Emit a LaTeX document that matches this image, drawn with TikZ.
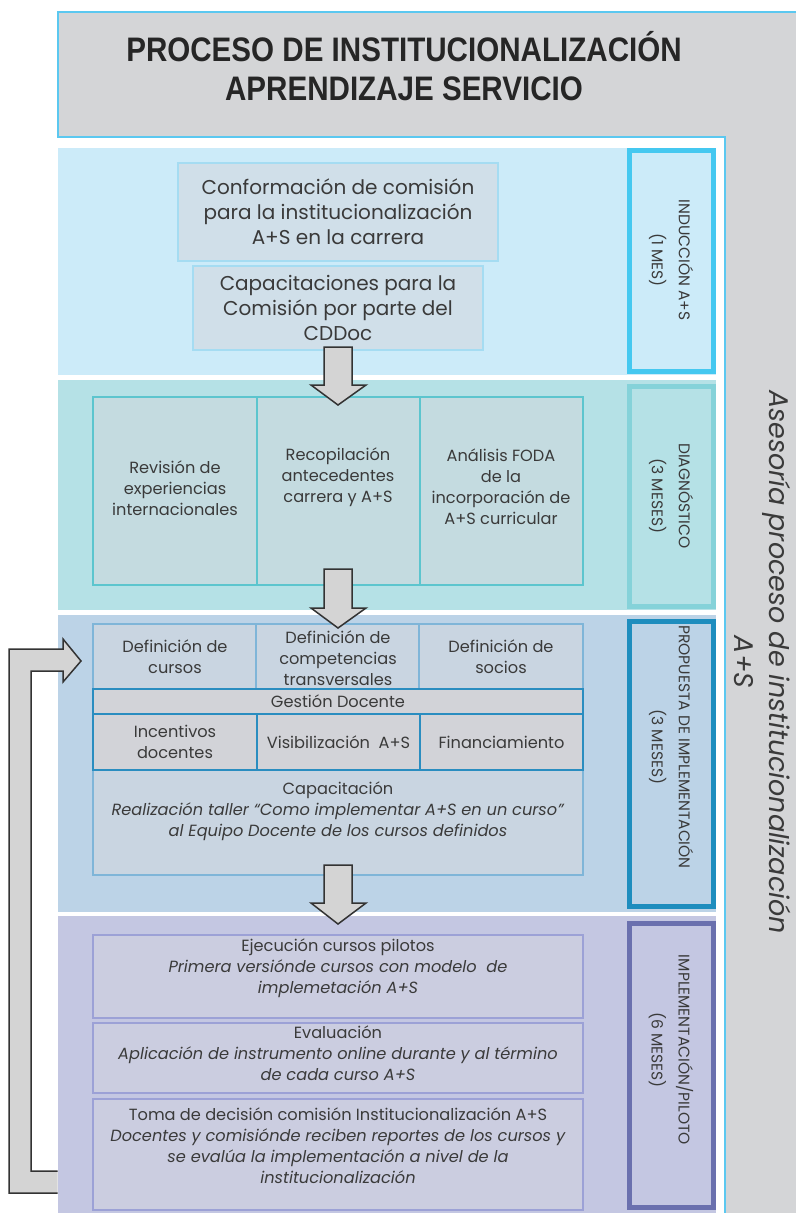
\documentclass[tikz,border=0pt]{standalone}
\usepackage{fontspec}
\setmainfont{Poppins}
\newfontfamily\titlefont[FakeStretch=0.87]{Liberation Sans}
\definecolor{stripgray}{HTML}{D4D5D7}
\definecolor{titleblue}{HTML}{5BC8F0}
\definecolor{txt}{HTML}{3A3A3A}
\definecolor{secAfill}{HTML}{CCEBF9}
\definecolor{secAline}{HTML}{45C8F0}
\definecolor{secBfill}{HTML}{B5E1E6}
\definecolor{secBline}{HTML}{85D2D9}
\definecolor{secCfill}{HTML}{BCD3E7}
\definecolor{secCline}{HTML}{1E8DBE}
\definecolor{secDfill}{HTML}{C4C7E2}
\definecolor{secDline}{HTML}{6A70AE}
\definecolor{boxAfill}{HTML}{D0DFE9}
\definecolor{boxAline}{HTML}{A5DCF2}
\definecolor{boxBfill}{HTML}{C4DBE0}
\definecolor{boxBline}{HTML}{5CC5CE}
\definecolor{boxCfill}{HTML}{C9D5E1}
\definecolor{boxCline}{HTML}{7FB5D8}
\definecolor{gestfill}{HTML}{D2D3D8}
\definecolor{gestline}{HTML}{2A8DC0}
\definecolor{boxDfill}{HTML}{CBCDE0}
\definecolor{boxDline}{HTML}{9CA1D6}
\definecolor{arrowfill}{HTML}{D4D4D4}
\definecolor{arrowline}{HTML}{333333}
\tikzset{
  cell/.style={rectangle, anchor=north west, inner sep=0pt, outer sep=0pt, line width=1.2pt},
  label/.style={text=txt, align=center, inner sep=0pt},
  big/.style={font=\fontsize{20}{25}\selectfont},
  small/.style={font=\fontsize{16.2}{21}\selectfont},
  side/.style={text=txt, align=center, rotate=-90, font=\fontsize{15.5}{18}\selectfont},
  blockarrow/.style={fill=arrowfill, draw=arrowline, line width=1.5pt, line join=miter},
  sidebox/.style={rectangle, line width=5pt},
}
\begin{document}
\begin{tikzpicture}[x=1pt,y=-1pt]
\useasboundingbox (0,0) rectangle (796,1213);
% background
\fill[stripgray] (58,12) rectangle (796,1213);
\fill[white] (58,137) rectangle (725,1213);
\draw[titleblue, line width=1.5pt] (796,12) -- (58,12) -- (58,137) -- (725,137) -- (725,1213);
\node[text=black!85, align=center, inner sep=0pt, font=\titlefont\bfseries\fontsize{34}{39}\selectfont] (title) at (404,66) {PROCESO DE INSTITUCIONALIZACIÓN\\APRENDIZAJE SERVICIO};
\node[text=txt, align=center, rotate=-90, inner sep=0pt, font=\itshape\fontsize{27}{35}\selectfont] (asesoria) at (763,662) {Asesoría proceso de institucionalización\\A+S};

% sections
\fill[secAfill] (58,148) rectangle (716,375);
\fill[secBfill] (58,380) rectangle (716,610);
\fill[secCfill] (58,615) rectangle (716,912);
\fill[secDfill] (58,916) rectangle (716,1213);

% feedback arrow
\draw[blockarrow] (57.5,1193) -- (9,1193) -- (9,649) -- (63,649) -- (63,639) -- (81,661) -- (63,682) -- (63,671) -- (31,671) -- (31,1171) -- (57.5,1171);

% side boxes
\draw[sidebox, secAline] (629.5,150) rectangle (713.5,371);
\draw[sidebox, secBline] (629.5,386) rectangle (713.5,606);
\draw[sidebox, secCline] (629.5,621) rectangle (713.5,906);
\draw[sidebox, secDline] (629.5,923) rectangle (713.5,1207);
\node[side] (indu) at (671,260) {INDUCCIÓN A+S\\[9pt](1 MES)};
\node[side] (diag) at (671,496) {DIAGNÓSTICO\\[9pt](3 MESES)};
\node[side] (prop) at (671,747) {PROPUESTA DE IMPLEMENTACIÓN\\[9pt](3 MESES)};
\node[side] (impl) at (671,1050) {IMPLEMENTACIÓN/PILOTO\\[9pt](6 MESES)};

% section 1
\node[cell, fill=boxAfill, draw=boxAline, minimum width=320pt, minimum height=98pt] (conf) at (178,163) {};
\node[label, big] (confT) at (conf.center) {Conformación de comisión\\para la institucionalización\\A+S en la carrera};
\node[cell, fill=boxAfill, draw=boxAline, minimum width=290pt, minimum height=84pt] (capa) at (193,266) {};
\node[label, big] (capaT) at (capa.center) {Capacitaciones para la\\Comisión por parte del\\CDDoc};

% section 2
\node[cell, fill=boxBfill, draw=boxBline, minimum width=164pt, minimum height=188pt] (rev) at (93,397) {};
\node[cell, fill=boxBfill, draw=boxBline, minimum width=163pt, minimum height=188pt] (reco) at (257,397) {};
\node[cell, fill=boxBfill, draw=boxBline, minimum width=163pt, minimum height=188pt] (foda) at (420,397) {};
\node[label, small] (revT) at (175,488) {Revisión de\\experiencias\\internacionales};
\node[label, small] (recoT) at (338,477) {Recopilación\\antecedentes\\carrera y A+S};
\node[label, small] (fodaT) at (501,487) {Análisis FODA\\de la\\incorporación de\\A+S curricular};

% section 3
\node[cell, fill=boxCfill, draw=boxCline, minimum width=163pt, minimum height=65pt] (cur) at (93,624) {};
\node[cell, fill=boxCfill, draw=boxCline, minimum width=163pt, minimum height=65pt] (comp) at (256,624) {};
\node[cell, fill=boxCfill, draw=boxCline, minimum width=164pt, minimum height=65pt] (soc) at (419,624) {};
\node[label, small] (curT) at (175,657) {Definición de\\cursos};
\node[label, small] (compT) at (338,658) {Definición de\\competencias\\transversales};
\node[label, small] (socT) at (501,657) {Definición de\\socios};
\node[cell, fill=boxCfill, draw=boxCline, minimum width=490pt, minimum height=105pt] (capt) at (93,770) {};
\node[label, small] (captT) at (338,811) {Capacitación\\\textit{Realización taller “Como implementar A+S en un curso”}\\\textit{al Equipo Docente de los cursos definidos}};
\node[cell, fill=gestfill, draw=gestline, minimum width=490pt, minimum height=25pt] (gest) at (93,689) {};
\node[label, small] (gestT) at (gest.center) {Gestión Docente};
\node[cell, fill=gestfill, draw=gestline, minimum width=164pt, minimum height=56pt] (inc) at (93,714) {};
\node[cell, fill=gestfill, draw=gestline, minimum width=163pt, minimum height=56pt] (vis) at (257,714) {};
\node[cell, fill=gestfill, draw=gestline, minimum width=163pt, minimum height=56pt] (fin) at (420,714) {};
\node[label, small] (incT) at (inc.center) {Incentivos\\docentes};
\node[label, small] (visT) at (vis.center) {Visibilización\ \ A+S};
\node[label, small] (finT) at (fin.center) {Financiamiento};

% section 4
\node[cell, fill=boxDfill, draw=boxDline, minimum width=490pt, minimum height=83pt] (eje) at (93,935) {};
\node[label, small] (ejeT) at (338,968) {Ejecución cursos pilotos\\\textit{Primera versiónde cursos con modelo\ \ de}\\\textit{implemetación A+S}};
\node[cell, fill=boxDfill, draw=boxDline, minimum width=490pt, minimum height=70pt] (eva) at (93,1023) {};
\node[label, small] (evaT) at (338,1053) {Evaluación\\\textit{Aplicación de instrumento online durante y al término}\\\textit{de cada curso A+S}};
\node[cell, fill=boxDfill, draw=boxDline, minimum width=490pt, minimum height=111pt] (toma) at (93,1099) {};
\node[label, small] (tomaT) at (338,1146) {Toma de decisión comisión Institucionalización A+S\\\textit{Docentes y comisiónde reciben reportes de los cursos y}\\\textit{se evalúa la implementación a nivel de la}\\\textit{institucionalización}};

% down arrows
\draw[blockarrow] (324,347) -- (352,347) -- (352,385) -- (366,385) -- (338,405) -- (311,385) -- (324,385) -- cycle;
\draw[blockarrow] (324,569) -- (352,569) -- (352,608) -- (366,608) -- (338,628) -- (311,608) -- (324,608) -- cycle;
\draw[blockarrow] (324,865) -- (352,865) -- (352,903) -- (366,903) -- (338,924) -- (311,903) -- (324,903) -- cycle;
\end{tikzpicture}
\end{document}
